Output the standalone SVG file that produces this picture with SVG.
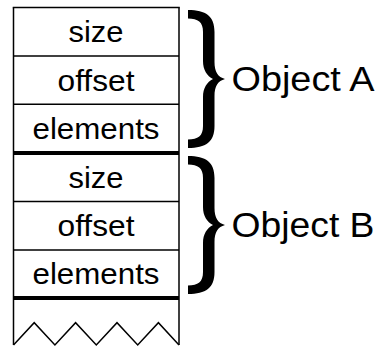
<svg xmlns="http://www.w3.org/2000/svg" width="377" height="348" viewBox="0 0 377 348">
<style>
.cell{font-family:"Liberation Sans",Arial,sans-serif;font-size:30px;fill:#000;text-anchor:middle}
.lbl{font-family:"Liberation Sans",Arial,sans-serif;font-size:35px;fill:#000}
.ln{stroke:#000;stroke-width:1.5;fill:none}
.thick{stroke:#000;stroke-width:3.8;fill:none}
.brace{fill:#000;stroke:none}
</style>
<defs>
<path id="brace" class="brace" d="M188,10 C206,10 214.5,16 214.5,32 L214.5,62 C214.5,72 218,77 225,79 C218,81 214.5,86 214.5,96 L214.5,126 C214.5,142 206,148 188,148 L188,139.5 C198,139.5 203,136 203,126 L203,97 C203,88 207,82 213,79 C207,76 203,70 203,61 L203,32 C203,22 198,18.5 188,18.5 Z"/>
</defs>
<rect width="377" height="348" fill="#fff"/>
<g id="connectors">
<line class="ln" x1="13.5" y1="7.5" x2="13.5" y2="345"/>
<line class="ln" x1="179" y1="7.5" x2="179" y2="345"/>
</g>
<g id="objectA">
<line class="ln" x1="12.75" y1="7.5" x2="179.75" y2="7.5"/>
<line class="ln" x1="13.5" y1="56" x2="179" y2="56"/>
<line class="ln" x1="13.5" y1="104.3" x2="179" y2="104.3"/>
<text class="cell" x="96" y="42" textLength="55" lengthAdjust="spacingAndGlyphs">size</text>
<text class="cell" x="96" y="90.5" textLength="77" lengthAdjust="spacingAndGlyphs">offset</text>
<text class="cell" x="96" y="138.5" textLength="127" lengthAdjust="spacingAndGlyphs">elements</text>
<use href="#brace"/>
<text class="lbl" x="231.5" y="91" textLength="143" lengthAdjust="spacingAndGlyphs">Object A</text>
</g>
<g id="objectB">
<line class="thick" x1="13.5" y1="153" x2="179" y2="153"/>
<line class="ln" x1="13.5" y1="201.5" x2="179" y2="201.5"/>
<line class="ln" x1="13.5" y1="250" x2="179" y2="250"/>
<line class="thick" x1="13.5" y1="298" x2="179" y2="298"/>
<text class="cell" x="96" y="188" textLength="55" lengthAdjust="spacingAndGlyphs">size</text>
<text class="cell" x="96" y="236" textLength="77" lengthAdjust="spacingAndGlyphs">offset</text>
<text class="cell" x="96" y="284" textLength="127" lengthAdjust="spacingAndGlyphs">elements</text>
<use href="#brace" transform="translate(0,146)"/>
<text class="lbl" x="231.5" y="237" textLength="143" lengthAdjust="spacingAndGlyphs">Object B</text>
</g>
<g id="tail">
<polyline class="ln" points="13.5,345 34.2,322.7 54.9,345 75.6,322.7 96.3,345 117,322.7 137.7,345 158.4,322.7 179,345"/>
</g>
</svg>
